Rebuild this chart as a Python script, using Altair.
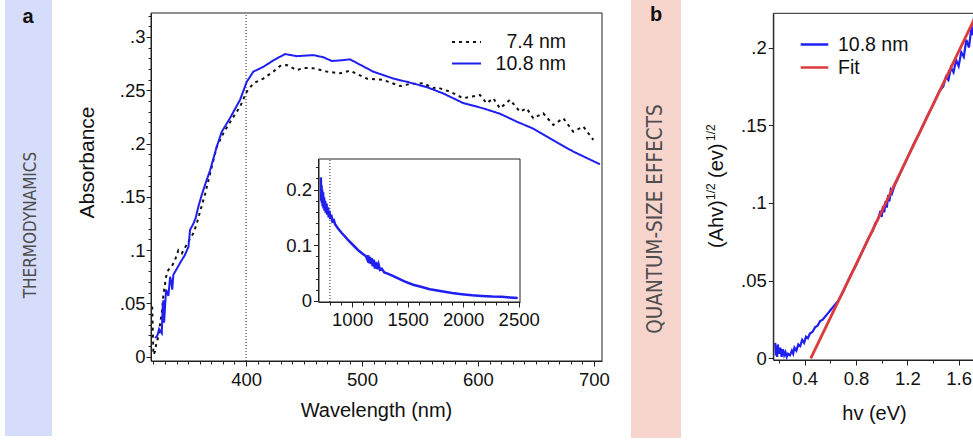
import altair as alt
import pandas as pd

FONT = "Liberation Sans"
BLUE = "#1f1ff0"
RED = "#dc3b3b"
INK = "#222222"

# ---------------- data: panel a (main) ----------------
series_a = ["7.4 nm", "10.8 nm"]
wl_74 = [319.0, 320.1, 321.5, 322.5, 324.4, 325.9, 327.3, 328.7, 331.0, 333.0, 335.9, 338.8,
         341.6, 344.6, 350.3, 354.6, 357.5, 360.3, 364.7, 370.4, 374.7, 380.4, 389.0, 394.8,
         400.6, 406.3, 414.9, 423.5, 429.3, 435.1, 443.7, 450.0, 458.0, 469.6, 481.0, 489.7,
         496.0, 504.0, 518.4, 532.8, 542.0, 552.8, 561.5, 564.4, 575.9, 587.3, 601.7, 607.5,
         613.2, 619.0, 627.6, 636.2, 642.0, 647.7, 656.3, 665.0, 673.6, 682.2, 690.9, 699.5]
abs_74 = [0.047, 0.002, 0.005, 0.012, 0.019, 0.0315, 0.041, 0.058, 0.075, 0.0815, 0.0847, 0.091,
          0.100, 0.097, 0.108, 0.116, 0.125, 0.136, 0.153, 0.178, 0.197, 0.2097, 0.225, 0.2346,
          0.2487, 0.2565, 0.261, 0.2675, 0.2728, 0.2737, 0.269, 0.271, 0.2706, 0.2675, 0.266, 0.2684,
          0.265, 0.261, 0.2597, 0.254, 0.256, 0.2566, 0.252, 0.2528, 0.2487, 0.2425, 0.2456, 0.2378,
          0.2425, 0.233, 0.241, 0.230, 0.233, 0.2238, 0.2284, 0.2175, 0.2238, 0.2112, 0.216, 0.2034]

wl_108 = [321.6, 323.5, 325.0, 327.3, 328.0, 328.7, 329.3, 331.0, 332.0, 333.0, 334.5, 335.5,
          336.3, 337.3, 340.0, 343.1, 347.0, 350.3, 351.7, 354.6, 356.5, 358.9, 361.8, 366.1,
          369.0, 374.7, 379.0, 386.2, 394.8, 400.6, 406.3, 414.9, 423.5, 433.6, 443.7, 458.0,
          466.6, 473.9, 481.0, 489.7, 498.3, 509.7, 527.0, 538.5, 555.8, 570.1, 587.3, 604.6,
          619.0, 633.4, 647.7, 665.0, 682.2, 705.2]
abs_108 = [0.0175, 0.020, 0.026, 0.022, 0.045, 0.053, 0.032, 0.063, 0.060, 0.057, 0.075, 0.070,
           0.063, 0.077, 0.082, 0.088, 0.095, 0.103, 0.119, 0.125, 0.130, 0.141, 0.152, 0.166,
           0.175, 0.197, 0.211, 0.224, 0.241, 0.258, 0.2675, 0.272, 0.278, 0.284, 0.282, 0.283,
           0.281, 0.2775, 0.278, 0.279, 0.274, 0.2675, 0.261, 0.258, 0.253, 0.247, 0.238, 0.233,
           0.228, 0.2206, 0.214, 0.203, 0.1925, 0.1806]

# ---------------- data: panel a (inset) ----------------
inset_wl = [718, 721, 724, 727, 730, 734, 738, 742, 747, 752, 757, 763, 769, 775, 782, 789, 796,
            803, 812, 822, 835, 846, 870, 906, 935, 965, 1010, 1055, 1100, 1125, 1135, 1145, 1152,
            1160, 1168, 1177, 1185, 1195, 1205, 1215, 1225, 1238, 1250, 1266, 1290, 1320, 1356,
            1400, 1476, 1550, 1627, 1700, 1807, 1900, 1987, 2080, 2167, 2260, 2347, 2420, 2491]
inset_abs = [0.222, 0.180, 0.208, 0.176, 0.200, 0.170, 0.195, 0.166, 0.186, 0.162, 0.180, 0.158,
             0.175, 0.155, 0.168, 0.150, 0.162, 0.147, 0.155, 0.143, 0.145, 0.138, 0.131, 0.122,
             0.116, 0.109, 0.100, 0.091, 0.084, 0.080, 0.075, 0.082, 0.068, 0.079, 0.066, 0.077,
             0.062, 0.074, 0.058, 0.070, 0.057, 0.066, 0.056, 0.058, 0.051, 0.049, 0.046, 0.042,
             0.0345, 0.029, 0.025, 0.021, 0.0175, 0.014, 0.012, 0.010, 0.009, 0.008, 0.0075,
             0.0062, 0.005]

# ---------------- data: panel b ----------------
series_b = ["10.8 nm", "Fit"]
hv_108 = [0.170, 0.175, 0.180, 0.185, 0.190, 0.200, 0.210, 0.220, 0.230, 0.240, 0.250, 0.260,
          0.270, 0.285, 0.300, 0.310, 0.320, 0.335, 0.350, 0.365, 0.380, 0.395, 0.410, 0.425,
          0.440, 0.460, 0.480, 0.500, 0.520, 0.540, 0.560, 0.580, 0.600, 0.620, 0.640, 0.660,
          0.680, 0.700, 0.750, 0.800, 0.850, 0.900, 0.930, 0.950, 0.970, 0.990, 1.000, 1.010,
          1.020, 1.030, 1.040, 1.050, 1.060, 1.070, 1.080, 1.100, 1.150, 1.200, 1.250, 1.300,
          1.350, 1.400, 1.450, 1.480, 1.500, 1.520, 1.540, 1.560, 1.580, 1.600, 1.620, 1.640,
          1.660, 1.680, 1.700, 1.710, 1.720, 1.730]
tauc_108 = [0.010, 0.002, 0.008, 0.001, 0.009, 0.003, 0.007, 0.001, 0.006, 0.002, 0.004, 0.001,
            0.003, 0.002, 0.005, 0.003, 0.007, 0.005, 0.009, 0.008, 0.012, 0.010, 0.014, 0.013,
            0.016, 0.017, 0.020, 0.021, 0.024, 0.025, 0.027, 0.029, 0.031, 0.033, 0.035, 0.037,
            0.040, 0.043, 0.052, 0.060, 0.069, 0.078, 0.082, 0.087, 0.089, 0.095, 0.091, 0.098,
            0.094, 0.101, 0.097, 0.105, 0.101, 0.108, 0.106, 0.111, 0.120, 0.129, 0.138, 0.146,
            0.155, 0.163, 0.172, 0.175, 0.181, 0.179, 0.187, 0.184, 0.192, 0.188, 0.197, 0.194,
            0.205, 0.200, 0.213, 0.208, 0.220, 0.216]
fit_hv = [0.447, 1.75]
fit_val = [0.0, 0.2231]

# ---------------- ticks ----------------
a_x_ticks = list(range(320, 701, 10))
a_y_ticks = [round(i * 0.01, 2) for i in range(0, 33)]
i_x_ticks = list(range(800, 2501, 100))
i_y_ticks = [round(i * 0.02, 2) for i in range(0, 13)]
b_x_ticks = [0.2, 0.4, 0.6, 0.8, 1.0, 1.2, 1.4, 1.6]
b_y_ticks = [0, 0.05, 0.1, 0.15, 0.2]

# ---------------- geometry (pixel ranges) ----------------
W, H = 973, 441
A_XD, A_XR = [318, 707], [151, 602]
A_YD, A_YR = [-0.004, 0.3225], [361, 13]
I_XD, I_XR = [697, 2512], [318.5, 520]
I_YD, I_YR = [-0.002, 0.255], [302, 159]
B_XD, B_XR = [0.155, 1.75], [773.3, 977.9]
B_YD, B_YR = [-0.001, 0.222], [360, 13.3]

common = dict(domainColor=INK, tickColor=INK, labelColor="#111111", labelFont=FONT,
              labelFontSize=18.5, titleFont=FONT, titleFontSize=20, titleFontWeight="normal",
              titleColor="#111111", labelFlush=False, labelOverlap=False, grid=False, zindex=1)


def tsize(test, big, small):
    return {"condition": {"test": test, "value": big}, "value": small}


dot_lab = "datum.value == 0 ? '0' : replace(format(datum.value, '.2~f'), '0.', '.')"

t_a_y = "abs(datum.value*20 - round(datum.value*20)) < 1e-6"
common_a_y = dict(common, titleFontSize=21)
ax_a_y = alt.Axis(orient="left", offset=-A_XR[0], values=a_y_ticks, tickSize=tsize(t_a_y, 5, 3),
                  labelExpr=f"{t_a_y} ? ({dot_lab}) : ''", labelPadding=1,
                  title="Absorbance", titleAngle=270, titleX=-64, titleY=162,
                  titleAlign="center", titleBaseline="middle", **common_a_y)
t_a_x = "datum.value % 100 == 0"
ax_a_x = alt.Axis(orient="bottom", offset=-(H - A_YR[0]), values=a_x_ticks,
                  tickSize=tsize(t_a_x, 5, 3), labelExpr=f"{t_a_x} ? datum.label : ''",
                  labelPadding=4, title="Wavelength (nm)", titleX=376, titleY=49,
                  titleAlign="center", titleBaseline="middle", **common)

t_i_y = "abs(datum.value*10 - round(datum.value*10)) < 1e-6"
ax_i_y = alt.Axis(orient="left", offset=-I_XR[0], values=i_y_ticks, tickSize=tsize(t_i_y, 5, 3),
                  labelExpr=f"{t_i_y} ? (datum.value == 0 ? '0' : format(datum.value, '.1f')) : ''",
                  labelPadding=2, title=None, **common)
t_i_x = "datum.value % 500 == 0"
ax_i_x = alt.Axis(orient="bottom", offset=-(H - I_YR[0]), values=i_x_ticks,
                  tickSize=tsize(t_i_x, 5, 3),
                  labelExpr=f"{t_i_x} ? format(datum.value, 'd') : ''",
                  labelPadding=3, title=None, **common)

ax_b_y = alt.Axis(orient="left", offset=-B_XR[0], values=b_y_ticks, tickSize=5,
                  labelExpr=dot_lab, labelPadding=2, title=None, **common)
t_b_x = "abs(datum.value/0.4 - round(datum.value/0.4)) < 1e-6"
ax_b_x = alt.Axis(orient="bottom", offset=-(H - B_YR[0]), values=b_x_ticks,
                  tickSize=tsize(t_b_x, 5, 3),
                  labelExpr=f"{t_b_x} ? format(datum.value, '.1f') : ''",
                  labelPadding=4, title="hv (eV)", titleX=874, titleY=53,
                  titleAlign="center", titleBaseline="middle", **common)


def sc(dom, rng):
    return alt.Scale(domain=dom, range=rng, nice=False, zero=False)


# ---------------- panel a main ----------------
df_a = pd.concat([
    pd.DataFrame({"x": wl_74, "y": abs_74, "s": series_a[0]}),
    pd.DataFrame({"x": wl_108, "y": abs_108, "s": series_a[1]}),
], ignore_index=True)

XA = dict(scale=sc(A_XD, A_XR), axis=ax_a_x)
YA = dict(scale=sc(A_YD, A_YR), axis=ax_a_y)

frame_df_a = pd.DataFrame({"x": [A_XD[0]], "x1": [A_XD[1]], "y": [A_YD[0]], "y1": [A_YD[1]]})
frame_a = alt.Chart(frame_df_a).mark_rect(fill="transparent", stroke=INK, strokeWidth=1).encode(
    x=alt.X("x:Q", **XA), x2="x1:Q", y=alt.Y("y:Q", **YA), y2="y1:Q")
vline_df_a = pd.DataFrame({"x": [400], "y": [A_YD[0]], "y1": [A_YD[1]]})
vline_a = alt.Chart(vline_df_a).mark_rule(color=INK, strokeWidth=1, strokeDash=[1, 2]).encode(
    x=alt.X("x:Q", **XA), y=alt.Y("y:Q", **YA), y2="y1:Q")
lines_a = alt.Chart(df_a).mark_line(strokeWidth=2).encode(
    x=alt.X("x:Q", **XA), y=alt.Y("y:Q", **YA),
    color=alt.Color("s:N", scale=alt.Scale(domain=series_a, range=["#111111", BLUE]), legend=None),
    strokeDash=alt.StrokeDash("s:N", scale=alt.Scale(domain=series_a, range=[[3, 4], [1, 0]]),
                              legend=None))
panel_a = alt.layer(frame_a, vline_a, lines_a)

# legend of panel a (labels right-aligned as in the figure)
leg_txt = pd.DataFrame({"t": series_a, "py": [42, 63.5]})
leg_a_text = alt.Chart(leg_txt).mark_text(
    font=FONT, fontSize=19.5, color="#111111", align="right", baseline="middle").encode(
    x=alt.value(566), y=alt.Y("py:Q", scale=None), text="t:N")
one = pd.DataFrame({"k": [0]})
leg_a_s1 = alt.Chart(one).mark_rule(color="#111111", strokeWidth=2, strokeDash=[3, 4]).encode(
    x=alt.value(452), x2=alt.value(481), y=alt.value(42))
leg_a_s2 = alt.Chart(one).mark_rule(color=BLUE, strokeWidth=2).encode(
    x=alt.value(452), x2=alt.value(481), y=alt.value(63.5))
legend_a = alt.layer(leg_a_s1, leg_a_s2, leg_a_text)

# ---------------- inset ----------------
XI = dict(scale=sc(I_XD, I_XR), axis=ax_i_x)
YI = dict(scale=sc(I_YD, I_YR), axis=ax_i_y)
frame_df_i = pd.DataFrame({"x": [I_XD[0]], "x1": [I_XD[1]], "y": [I_YD[0]], "y1": [I_YD[1]]})
frame_i = alt.Chart(frame_df_i).mark_rect(fill="white", stroke=INK, strokeWidth=1).encode(
    x=alt.X("x:Q", **XI), x2="x1:Q", y=alt.Y("y:Q", **YI), y2="y1:Q")
vline_df_i = pd.DataFrame({"x": [800], "y": [I_YD[0]], "y1": [I_YD[1]]})
vline_i = alt.Chart(vline_df_i).mark_rule(color=INK, strokeWidth=1, strokeDash=[1, 2]).encode(
    x=alt.X("x:Q", **XI), y=alt.Y("y:Q", **YI), y2="y1:Q")
df_i = pd.DataFrame({"x": inset_wl, "y": inset_abs})
line_i = alt.Chart(df_i).mark_line(color=BLUE, strokeWidth=2.5).encode(
    x=alt.X("x:Q", **XI), y=alt.Y("y:Q", **YI))
inset = alt.layer(frame_i, vline_i, line_i)

# ---------------- panel b ----------------
XB = dict(scale=sc(B_XD, B_XR), axis=ax_b_x)
YB = dict(scale=sc(B_YD, B_YR), axis=ax_b_y)
leg_b = alt.Legend(title=None, orient="none", legendX=799, legendY=33, symbolType="stroke",
                   symbolSize=760, symbolStrokeWidth=2.5, labelFont=FONT, labelFontSize=19.5,
                   labelColor="#111111", labelOffset=8, clipHeight=23, rowPadding=0, padding=0)
color_b = alt.Color("s:N", scale=alt.Scale(domain=series_b, range=[BLUE, RED]), legend=leg_b)
frame_df_b = pd.DataFrame({"x": [B_XD[0]], "x1": [B_XD[1]], "y": [B_YD[0]], "y1": [B_YD[1]]})
frame_b = alt.Chart(frame_df_b).mark_rect(fill="white", stroke=INK, strokeWidth=1).encode(
    x=alt.X("x:Q", **XB), x2="x1:Q", y=alt.Y("y:Q", **YB), y2="y1:Q")
df_b = pd.DataFrame({"x": hv_108, "y": tauc_108, "s": series_b[0]})
df_fit = pd.DataFrame({"x": fit_hv, "y": fit_val, "s": series_b[1]})
line_b = alt.Chart(df_b).mark_line(strokeWidth=2.2).encode(
    x=alt.X("x:Q", **XB), y=alt.Y("y:Q", **YB), color=color_b)
fit_b = alt.Chart(df_fit).mark_line(strokeWidth=2.8).encode(
    x=alt.X("x:Q", **XB), y=alt.Y("y:Q", **YB), color=color_b)
panel_b = alt.layer(frame_b, line_b, fit_b)

# ---------------- decorations (strips, panel letters, side titles) ----------------
strip_a = alt.Chart(one).mark_rect(color="#d6ddfa").encode(
    x=alt.value(5), x2=alt.value(52), y=alt.value(0), y2=alt.value(436))
strip_b = alt.Chart(one).mark_rect(color="#f7d5cd").encode(
    x=alt.value(631), x2=alt.value(681), y=alt.value(0), y2=alt.value(438))
side_font = "Liberation Sans Narrow, DejaVu Sans Condensed, sans-serif"
txt_a = alt.Chart(pd.DataFrame({"t": ["THERMODYNAMICS"]})).mark_text(
    angle=270, font=side_font, fontSize=17, color="#4d4d4d", align="center", baseline="middle").encode(
    x=alt.value(31), y=alt.value(225), text="t:N")
txt_b = alt.Chart(pd.DataFrame({"t": ["QUANTUM-SIZE EFFECTS"]})).mark_text(
    angle=270, font=side_font, fontSize=20.5, color="#4d4d4d", align="center", baseline="middle").encode(
    x=alt.value(656), y=alt.value(219), text="t:N")
let_a = alt.Chart(pd.DataFrame({"t": ["a"]})).mark_text(
    font=FONT, fontSize=20, fontWeight="bold", color="#111111").encode(
    x=alt.value(28), y=alt.value(17), text="t:N")
let_b = alt.Chart(pd.DataFrame({"t": ["b"]})).mark_text(
    font=FONT, fontSize=20, fontWeight="bold", color="#111111").encode(
    x=alt.value(656), y=alt.value(15), text="t:N")

# y title of panel b with superscripts
yt_main = pd.DataFrame({"t": ["(Ahv)", "(ev)"], "py": [248, 178]})
yt_sup = pd.DataFrame({"t": ["1/2", "1/2"], "py": [200, 141]})
ytb_main = alt.Chart(yt_main).mark_text(
    angle=270, font=FONT, fontSize=20, color="#111111", align="left", baseline="middle").encode(
    x=alt.value(717), y=alt.Y("py:Q", scale=None), text="t:N")
ytb_sup = alt.Chart(yt_sup).mark_text(
    angle=270, font=FONT, fontSize=12, color="#111111", align="left", baseline="middle").encode(
    x=alt.value(711), y=alt.Y("py:Q", scale=None), text="t:N")

deco = alt.layer(strip_a, strip_b, txt_a, txt_b, let_a, let_b)
ytitle_b = alt.layer(ytb_main, ytb_sup)

chart = alt.layer(deco, panel_a, legend_a, inset, panel_b, ytitle_b).resolve_scale(
    x="independent", y="independent", color="independent", strokeDash="independent"
).properties(
    width=W, height=H, padding=0, autosize=alt.AutoSizeParams(type="none")
).configure_view(stroke=None)

chart.save("out.html", embed_options={"renderer": "svg", "actions": False})
